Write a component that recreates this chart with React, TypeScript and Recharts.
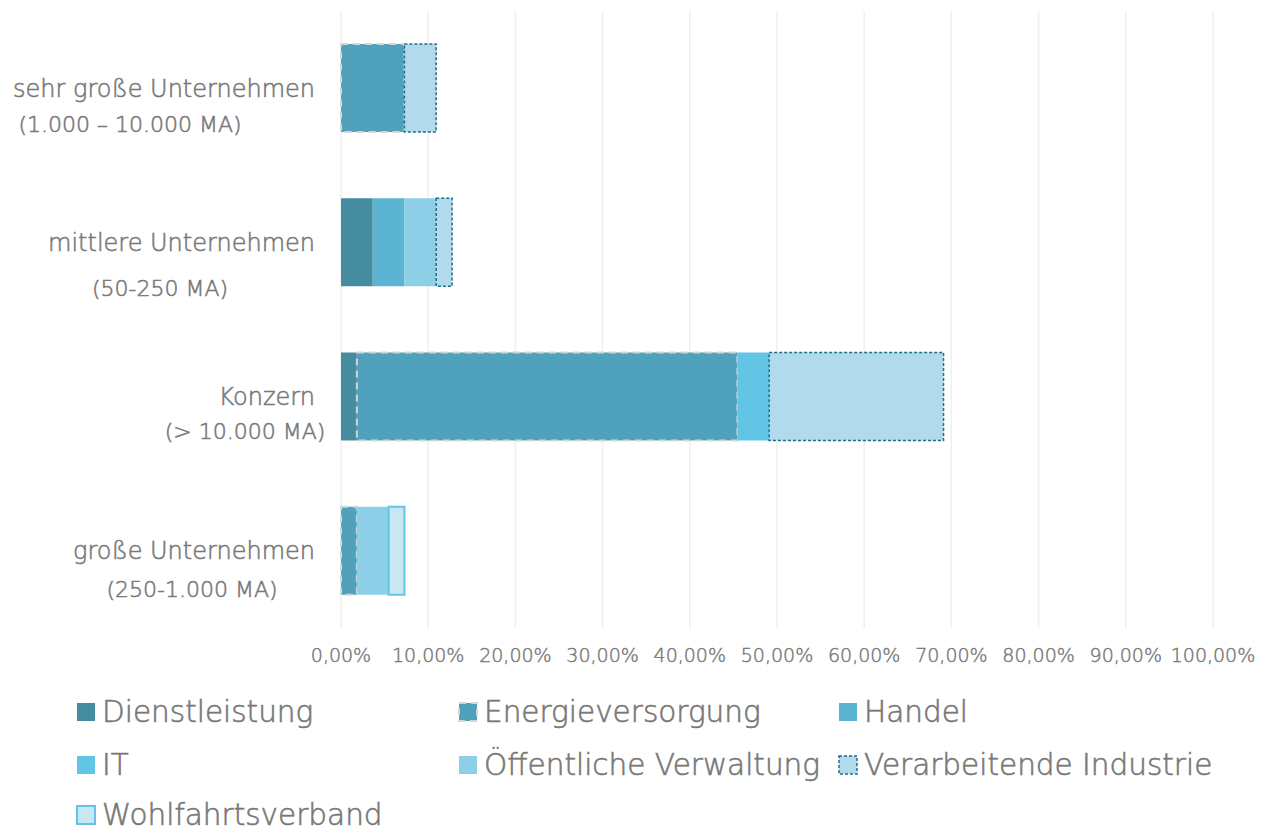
import React from "react";
import { BarChart, Bar, XAxis, YAxis, CartesianGrid } from "recharts";

const categoryLine1 = [
  "sehr große Unternehmen",
  "mittlere Unternehmen",
  "Konzern",
  "große Unternehmen",
];
const categoryLine2 = [
  "(1.000 – 10.000 MA)",
  "(50-250 MA)",
  "(> 10.000 MA)",
  "(250-1.000 MA)",
];

const dienstleistung = [0, 3.64, 1.82, 0];
const energieversorgung = [7.27, 0, 43.64, 1.82];
const handel = [0, 3.64, 0, 0];
const it = [0, 0, 3.64, 0];
const oeffentlicheVerwaltung = [0, 3.64, 0, 3.64];
const verarbeitendeIndustrie = [3.64, 1.82, 20.0, 0];
const wohlfahrtsverband = [0, 0, 0, 1.82];

const xTicks = [0, 10, 20, 30, 40, 50, 60, 70, 80, 90, 100];

const seriesNames = [
  "Dienstleistung",
  "Energieversorgung",
  "Handel",
  "IT",
  "Öffentliche Verwaltung",
  "Verarbeitende Industrie",
  "Wohlfahrtsverband",
];
const seriesValues = [
  dienstleistung,
  energieversorgung,
  handel,
  it,
  oeffentlicheVerwaltung,
  verarbeitendeIndustrie,
  wohlfahrtsverband,
];

const seriesStyles = [
  { fill: "#468CA1", stroke: "none", dash: undefined, width: 0 },
  { fill: "#50A2BC", stroke: "#D5D5D5", dash: "7 5", width: 2 },
  { fill: "#5BB4D1", stroke: "none", dash: undefined, width: 0 },
  { fill: "#63C5E5", stroke: "none", dash: undefined, width: 0 },
  { fill: "#8ECFE8", stroke: "none", dash: undefined, width: 0 },
  { fill: "#B1DAEC", stroke: "#1E6D8C", dash: "3 2", width: 1.5 },
  { fill: "#C9E7F3", stroke: "#63C5E5", dash: undefined, width: 2 },
];

const data = categoryLine1.map((c, i) => {
  const row: Record<string, any> = { name: c, idx: i };
  seriesNames.forEach((s, k) => {
    row[s] = seriesValues[k][i] === 0 ? null : seriesValues[k][i];
  });
  return row;
});

const labelLayout = [
  { x2: 130, dy2: 36 },
  { x2: 160, dy2: 46 },
  { x2: 245, dy2: 35 },
  { x2: 192, dy2: 38 },
];

const TEXT = "#787878";
const FONT = "'DejaVu Sans', 'Open Sans', sans-serif";
const WEIGHT = 200;
const TSTROKE = 0.55;

const YTick = (props: any) => {
  const { y, payload, index } = props;
  const i = payload?.index ?? index;
  const lay = labelLayout[i] || { x2: 160, dy2: 36 };
  return (
    <g>
      <text
        x={315}
        y={y}
        dy="0.35em"
        textAnchor="end"
        fill={TEXT}
        stroke={TEXT}
        strokeWidth={TSTROKE}
        fontSize={24}
        fontWeight={WEIGHT}
        fontFamily={FONT}
      >
        {categoryLine1[i]}
      </text>
      <text
        x={lay.x2}
        y={y + lay.dy2}
        dy="0.35em"
        textAnchor="middle"
        fill={TEXT}
        stroke={TEXT}
        strokeWidth={TSTROKE}
        fontSize={22}
        fontWeight={WEIGHT}
        fontFamily={FONT}
      >
        {categoryLine2[i]}
      </text>
    </g>
  );
};

const fmt = (v: number) => v.toFixed(2).replace(".", ",") + "%";

const legendPos = [
  { left: 76, top: 712 },
  { left: 458, top: 712 },
  { left: 838, top: 712 },
  { left: 76, top: 765 },
  { left: 458, top: 765 },
  { left: 838, top: 765 },
  { left: 76, top: 815 },
];

export default function App() {
  return (
    <div
      style={{
        position: "absolute",
        left: 0,
        top: 0,
        width: 1270,
        height: 828,
        overflow: "hidden",
        background: "#fff",
        fontFamily: FONT,
      }}
    >
      <BarChart
        width={1270}
        height={680}
        data={data}
        layout="vertical"
        margin={{ top: 11, right: 57, bottom: 22, left: 0 }}
        barCategoryGap={0}
      >
        <CartesianGrid
          horizontal={false}
          vertical={true}
          stroke="#EFEFEF"
          strokeWidth={1.5}
        />
        <XAxis
          type="number"
          domain={[0, 100]}
          ticks={xTicks}
          tickFormatter={fmt}
          axisLine={false}
          tickLine={false}
          tick={{
            fill: TEXT,
            stroke: TEXT,
            strokeWidth: 0.45,
            fontSize: 19,
            fontFamily: FONT,
            fontWeight: WEIGHT,
          }}
          tickMargin={15}
          interval={0}
          height={30}
        />
        <YAxis
          type="category"
          dataKey="name"
          width={341}
          axisLine={false}
          tickLine={false}
          tick={<YTick />}
          interval={0}
        />
        {seriesNames.map((s, k) => (
          <Bar
            key={s}
            dataKey={s}
            stackId="a"
            barSize={88}
            fill={seriesStyles[k].fill}
            stroke={seriesStyles[k].stroke}
            strokeDasharray={seriesStyles[k].dash}
            strokeWidth={seriesStyles[k].width}
            isAnimationActive={false}
          />
        ))}
      </BarChart>
      {seriesNames.map((s, k) => (
        <div
          key={s}
          style={{
            position: "absolute",
            left: legendPos[k].left,
            top: legendPos[k].top,
            transform: "translateY(-50%)",
            display: "flex",
            alignItems: "center",
            whiteSpace: "nowrap",
          }}
        >
          <svg width={20} height={20} style={{ marginRight: 6 }}>
            <rect
              x={1}
              y={1}
              width={18}
              height={18}
              fill={seriesStyles[k].fill}
              stroke={seriesStyles[k].stroke}
              strokeDasharray={seriesStyles[k].dash}
              strokeWidth={seriesStyles[k].width}
            />
          </svg>
          <span
            style={{
              fontSize: 29.5,
              color: TEXT,
              lineHeight: "36px",
              fontWeight: WEIGHT,
              WebkitTextStroke: `0.6px ${TEXT}`,
            }}
          >
            {s}
          </span>
        </div>
      ))}
    </div>
  );
}
